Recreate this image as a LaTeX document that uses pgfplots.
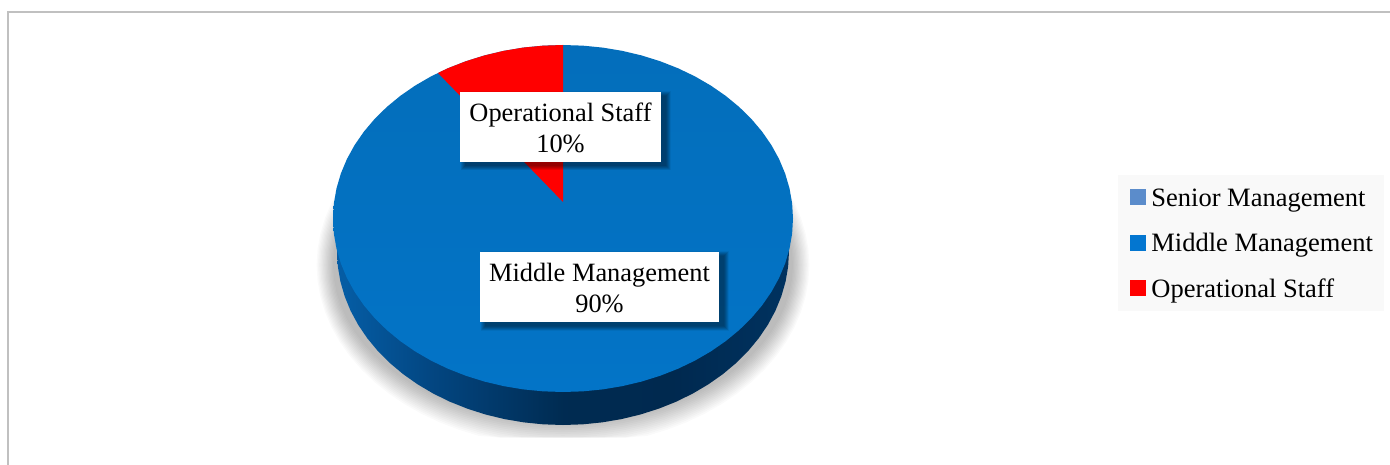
\documentclass[border=0pt]{standalone}
\usepackage{fontspec}
\setmainfont{Liberation Serif}
\usepackage{pgfplots}
\usepackage{pgfplotstable}
\pgfplotsset{compat=1.18}

\definecolor{framegray}{HTML}{C0C0C0}
\definecolor{legendbg}{HTML}{F9F9F9}
\definecolor{seniorblue}{HTML}{5B8CCB}
\definecolor{middleblue}{HTML}{0376D0}
\definecolor{faceTop}{HTML}{036EBB}
\definecolor{faceLow}{HTML}{0374C7}
\definecolor{opred}{HTML}{FF0000}

% Rim of the disc side, dark at the front
\pgfdeclarehorizontalshading{discside}{100bp}{
  rgb(0bp)=(0.02,0.40,0.70);
  rgb(26bp)=(0.02,0.36,0.64);
  rgb(36bp)=(0.01,0.27,0.50);
  rgb(50bp)=(0.00,0.17,0.32);
  rgb(62bp)=(0.00,0.16,0.31);
  rgb(76bp)=(0.00,0.20,0.38);
  rgb(100bp)=(0.00,0.23,0.42)}

% Unit circle, clockwise from twelve o'clock, in 5 degree steps
\pgfplotstableread{
u v
0.0000 -1.0000
0.0872 -0.9962
0.1736 -0.9848
0.2588 -0.9659
0.3420 -0.9397
0.4226 -0.9063
0.5000 -0.8660
0.5736 -0.8192
0.6428 -0.7660
0.7071 -0.7071
0.7660 -0.6428
0.8192 -0.5736
0.8660 -0.5000
0.9063 -0.4226
0.9397 -0.3420
0.9659 -0.2588
0.9848 -0.1736
0.9962 -0.0872
1.0000 0.0000
0.9962 0.0872
0.9848 0.1736
0.9659 0.2588
0.9397 0.3420
0.9063 0.4226
0.8660 0.5000
0.8192 0.5736
0.7660 0.6428
0.7071 0.7071
0.6428 0.7660
0.5736 0.8192
0.5000 0.8660
0.4226 0.9063
0.3420 0.9397
0.2588 0.9659
0.1736 0.9848
0.0872 0.9962
0.0000 1.0000
-0.0872 0.9962
-0.1736 0.9848
-0.2588 0.9659
-0.3420 0.9397
-0.4226 0.9063
-0.5000 0.8660
-0.5736 0.8192
-0.6428 0.7660
-0.7071 0.7071
-0.7660 0.6428
-0.8192 0.5736
-0.8660 0.5000
-0.9063 0.4226
-0.9397 0.3420
-0.9659 0.2588
-0.9848 0.1736
-0.9962 0.0872
-1.0000 0.0000
-0.9962 -0.0872
-0.9848 -0.1736
-0.9659 -0.2588
-0.9397 -0.3420
-0.9063 -0.4226
-0.8660 -0.5000
-0.8192 -0.5736
-0.7660 -0.6428
-0.7071 -0.7071
-0.6428 -0.7660
-0.5736 -0.8192
-0.5000 -0.8660
-0.4226 -0.9063
-0.3420 -0.9397
-0.2588 -0.9659
-0.1736 -0.9848
-0.0872 -0.9962
0.0000 -1.0000
}\circletable

% Operational Staff slice on the tilted disc
\pgfplotstableread{
x y
563.0 45.0
543.0 45.7
523.1 47.6
503.5 50.9
484.3 55.5
465.8 61.3
448.0 68.2
438.0 73.0
563.0 202.0
563.0 45.0
}\opslice

\newcommand{\lblfont}{\fontsize{26.4}{30.5}\selectfont}

\begin{document}
\begin{tikzpicture}
\begin{axis}[
  width=1390pt, height=465pt, scale only axis,
  xmin=0, xmax=1390, ymin=0, ymax=465,
  y dir=reverse,
  hide axis,
  clip mode=individual,
  legend style={
    at={(axis cs:1130,188)}, anchor=north west,
    fill=none, draw=none,
    font=\fontsize{26.5}{30}\selectfont,
    inner xsep=0pt, inner ysep=0pt,
    row sep=20.5pt,
    nodes={inner sep=0pt, text height=18pt, text depth=7pt},
  },
  legend cell align=left,
  legend image code/.code={
    \fill[#1] (0pt,-3.5pt) rectangle (15pt,11.5pt);
    \path[draw=none, fill=none] (0pt,0pt) rectangle (21pt,0.1pt);},
]
  % page background and frame
  \fill[white] (rel axis cs:0,0) rectangle (rel axis cs:1,1);
  \addplot[framegray, line width=1.7pt, forget plot] coordinates {(8,465) (8,12) (1390,12)};

  % soft shadow under the disc, cut flat at its lower edge
  \pgfplotsinvokeforeach{0,...,13}{
    \addplot[draw=none, fill=black, fill opacity=0.019, forget plot]
      table[x expr={563+(230+1.26*#1)*\thisrow{u}},
            y expr={min(437.5,265+(158+1.83*#1)*\thisrow{v})}] {\circletable};
  }

  % side of the disc
  \addplot[draw=none, shade, shading=discside, forget plot]
    table[x expr={563+226*\thisrow{u}}, y expr={251.5+173.5*\thisrow{v}}] {\circletable};

  % top face (Middle Management)
  \addplot[draw=none, shade, top color=faceTop, bottom color=faceLow, forget plot]
    table[x expr={563+230*\thisrow{u}}, y expr={218.5+173.5*\thisrow{v}}] {\circletable};

  % Operational Staff slice
  \addplot[draw=none, fill=opred, forget plot] table[x=x, y=y] {\opslice};

  % legend panel
  \fill[legendbg] (axis cs:1118,175) rectangle (axis cs:1384,311);

  % legend entries
  \addlegendimage{seniorblue}
  \addlegendentry{Senior Management}
  \addlegendimage{middleblue}
  \addlegendentry{Middle Management}
  \addlegendimage{opred}
  \addlegendentry{Operational Staff}

  % data label shadows
  \pgfplotsinvokeforeach{0,...,9}{
    \node[fill=black, fill opacity=0.05, inner sep=0pt,
          minimum width={(201+#1)*1pt}, minimum height={(70+#1)*1pt}]
      at (axis cs:565.5,131) {};
    \node[fill=black, fill opacity=0.05, inner sep=0pt,
          minimum width={(239+#1)*1pt}, minimum height={(70+#1)*1pt}]
      at (axis cs:604.5,291) {};
  }

  % data labels
  \node[fill=white, inner sep=0pt, minimum width=201pt, minimum height=70pt] at (axis cs:560.5,127) {};
  \node[fill=white, inner sep=0pt, minimum width=239pt, minimum height=70pt] at (axis cs:599.5,287) {};
  \node[inner sep=0pt, align=center, font=\lblfont] at (axis cs:560.5,128) {Operational Staff\\10\%};
  \node[inner sep=0pt, align=center, font=\lblfont] at (axis cs:599.5,288) {Middle Management\\90\%};
\end{axis}
\end{tikzpicture}
\end{document}
